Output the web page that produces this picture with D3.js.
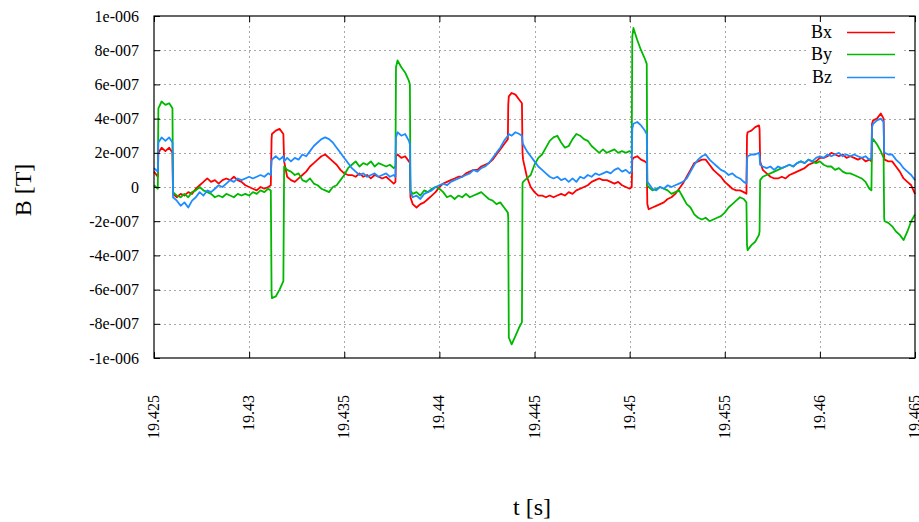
<!DOCTYPE html>
<html><head><meta charset="utf-8">
<script src="https://cdn.jsdelivr.net/npm/d3@7"></script>
<style>body{margin:0;background:#fff;} text{font-family:"Liberation Serif","DejaVu Serif",serif;fill:#000;}</style>
</head><body><svg id="c" width="919" height="522"></svg>
<script>
// time [s]
const time = [
19.42500,19.42520,19.42523,19.42540,19.42560,19.42580,19.42597,19.42600,19.42620,19.42640,
19.42660,19.42680,19.42700,19.42720,19.42740,19.42760,19.42780,19.42800,19.42820,19.42840,
19.42860,19.42880,19.42900,19.42920,19.42940,19.42960,19.42980,19.43000,19.43020,19.43040,
19.43060,19.43080,19.43100,19.43114,19.43118,19.43120,19.43140,19.43160,19.43180,19.43184,
19.43200,19.43220,19.43240,19.43260,19.43280,19.43300,19.43320,19.43340,19.43360,19.43380,
19.43400,19.43420,19.43440,19.43460,19.43480,19.43500,19.43520,19.43540,19.43560,19.43580,
19.43600,19.43620,19.43640,19.43660,19.43680,19.43700,19.43720,19.43740,19.43760,19.43769,
19.43772,19.43780,19.43800,19.43820,19.43840,19.43845,19.43848,19.43860,19.43880,19.43900,
19.43920,19.43940,19.43960,19.43980,19.44000,19.44020,19.44040,19.44060,19.44080,19.44100,
19.44120,19.44140,19.44160,19.44180,19.44200,19.44220,19.44240,19.44260,19.44280,19.44300,
19.44320,19.44340,19.44360,19.44362,19.44365,19.44380,19.44400,19.44420,19.44434,19.44437,
19.44440,19.44460,19.44480,19.44500,19.44520,19.44540,19.44560,19.44580,19.44600,19.44620,
19.44640,19.44660,19.44680,19.44700,19.44720,19.44740,19.44760,19.44780,19.44800,19.44820,
19.44840,19.44860,19.44880,19.44900,19.44920,19.44940,19.44960,19.44980,19.45000,19.45011,
19.45014,19.45020,19.45040,19.45060,19.45080,19.45090,19.45093,19.45100,19.45120,19.45140,
19.45160,19.45180,19.45200,19.45220,19.45240,19.45260,19.45280,19.45300,19.45320,19.45340,
19.45360,19.45380,19.45400,19.45420,19.45440,19.45460,19.45480,19.45500,19.45520,19.45540,
19.45560,19.45580,19.45600,19.45614,19.45617,19.45620,19.45640,19.45660,19.45680,19.45683,
19.45686,19.45700,19.45720,19.45740,19.45760,19.45780,19.45800,19.45820,19.45840,19.45860,
19.45880,19.45900,19.45920,19.45940,19.45960,19.45980,19.46000,19.46020,19.46040,19.46060,
19.46080,19.46100,19.46120,19.46140,19.46160,19.46180,19.46200,19.46220,19.46240,19.46260,
19.46271,19.46274,19.46280,19.46300,19.46320,19.46335,19.46338,19.46340,19.46360,19.46380,
19.46400,19.46420,19.46440,19.46460,19.46480,19.46500
];
// values in units of 1e-7 T
const bx = [
0.9,0.6,2.0,2.3,2.1,2.3,2.0,-0.4,-0.6,-0.4,
-0.5,-0.3,-0.4,-0.1,0.1,0.3,0.5,0.3,0.4,0.2,
0.4,0.5,0.4,0.6,0.4,0.3,0.1,0.0,-0.1,-0.2,
0.0,-0.1,0.0,0.1,2.8,3.1,3.3,3.4,3.1,1.5,
0.6,0.4,0.3,0.5,0.7,0.9,1.2,1.4,1.6,1.8,
1.9,1.7,1.5,1.3,1.0,0.8,0.7,0.7,0.6,0.8,
0.6,0.7,0.5,0.7,0.6,0.5,0.6,0.4,0.2,0.3,
1.8,1.9,1.7,1.8,1.5,1.4,-0.6,-1.0,-1.2,-1.0,
-0.9,-0.7,-0.5,-0.3,0.0,0.2,0.3,0.4,0.5,0.6,
0.6,0.8,0.9,1.0,1.0,1.2,1.3,1.4,1.6,1.9,
2.2,2.5,2.8,4.8,5.3,5.5,5.4,5.1,4.9,2.0,
1.6,0.6,0.0,-0.3,-0.5,-0.5,-0.6,-0.5,-0.6,-0.5,
-0.4,-0.5,-0.3,-0.4,-0.2,-0.1,0.0,0.1,0.3,0.4,
0.5,0.4,0.4,0.3,0.2,0.3,0.1,0.0,-0.1,0.0,
1.6,1.7,1.8,1.6,1.5,1.4,-1.0,-1.3,-1.2,-1.1,
-1.0,-0.9,-0.7,-0.6,-0.4,-0.1,0.2,0.6,1.0,1.4,
1.5,1.6,1.6,1.3,1.0,0.8,0.6,0.3,0.1,-0.1,
-0.2,-0.2,-0.3,-0.4,3.0,3.2,3.3,3.5,3.6,3.4,
1.5,1.0,0.8,0.6,0.5,0.5,0.6,0.5,0.7,0.8,
0.9,1.0,1.1,1.3,1.4,1.5,1.7,1.7,1.8,2.0,
1.9,1.8,1.9,1.7,1.8,1.7,1.6,1.7,1.5,1.6,
1.5,3.7,3.9,4.0,4.3,4.0,1.7,1.6,1.5,1.5,
1.2,0.9,0.5,0.3,0.1,-0.4
];
const by = [
0.1,-0.1,4.6,5.0,4.8,4.9,4.6,-0.3,-0.5,-0.6,
-0.4,-0.6,-0.3,-0.2,0.0,-0.2,-0.3,-0.4,-0.6,-0.5,
-0.6,-0.4,-0.5,-0.6,-0.4,-0.5,-0.4,-0.5,-0.3,-0.4,
-0.2,-0.3,-0.1,-0.2,-6.2,-6.5,-6.4,-6.0,-5.5,1.2,
1.0,0.9,0.7,0.8,0.4,0.3,0.5,0.2,0.1,-0.1,
-0.2,-0.3,0.0,0.1,0.4,0.7,1.1,1.3,1.5,1.2,
1.4,1.3,1.5,1.2,1.4,1.3,1.2,1.3,1.1,1.2,
7.0,7.4,7.0,6.7,6.2,6.0,-0.2,-0.4,-0.3,-0.5,
-0.2,-0.3,-0.1,0.0,-0.1,-0.3,-0.6,-0.5,-0.7,-0.5,
-0.6,-0.4,-0.6,-0.5,-0.4,-0.3,-0.5,-0.7,-0.8,-1.0,
-0.9,-1.2,-1.5,-1.8,-8.8,-9.2,-8.7,-8.2,-7.9,0.2,
0.3,0.5,0.7,1.3,1.7,1.9,2.3,2.7,2.9,3.0,
2.6,2.3,2.4,2.8,3.1,3.0,2.8,2.7,2.4,2.2,
2.0,2.2,2.0,2.1,2.2,2.0,2.1,2.0,2.1,2.0,
8.8,9.3,8.6,8.0,7.5,7.2,0.1,0.0,-0.2,-0.1,
0.0,-0.1,-0.2,-0.4,-0.3,-0.2,-0.6,-1.0,-1.2,-1.6,
-1.8,-1.9,-1.8,-2.0,-1.9,-1.8,-1.7,-1.5,-1.2,-1.0,
-0.8,-0.6,-0.7,-0.9,-3.4,-3.7,-3.4,-3.2,-2.8,-2.6,
0.4,0.6,0.7,0.8,0.9,1.0,1.1,1.2,1.3,1.2,
1.4,1.5,1.4,1.6,1.5,1.4,1.5,1.3,1.2,1.2,
1.0,1.1,0.9,0.8,0.8,0.7,0.6,0.5,0.3,-0.1,
-0.2,2.6,2.8,2.5,2.1,1.7,-1.8,-2.0,-2.1,-2.3,
-2.6,-2.8,-3.1,-2.6,-2.0,-1.6
];
const bz = [
1.1,0.9,2.6,2.9,2.7,2.9,2.6,-0.6,-0.8,-1.1,
-0.9,-1.2,-0.8,-0.6,-0.3,-0.5,-0.2,-0.3,-0.1,0.1,
0.0,0.2,0.4,0.3,0.5,0.4,0.5,0.6,0.5,0.6,
0.7,0.6,0.8,0.7,1.5,1.6,1.8,1.6,1.8,1.5,
1.7,1.5,1.7,1.6,1.9,1.8,2.1,2.4,2.6,2.8,
2.9,2.8,2.6,2.3,2.0,1.7,1.4,1.1,0.9,0.7,
0.8,0.6,0.7,0.8,0.6,0.7,0.8,0.6,0.7,0.6,
2.9,3.2,3.0,3.1,2.7,2.5,-0.3,-0.6,-0.5,-0.7,
-0.4,-0.3,-0.2,0.0,0.1,0.2,0.1,0.3,0.4,0.5,
0.6,0.7,0.8,1.0,0.9,1.1,1.2,1.4,1.7,2.0,
2.3,2.7,3.0,3.0,3.1,3.0,3.2,3.1,3.0,2.6,
2.5,2.1,1.8,1.5,1.2,1.0,0.8,0.6,0.5,0.6,
0.4,0.5,0.3,0.5,0.3,0.6,0.5,0.7,0.6,0.8,
0.7,0.8,0.9,0.8,1.0,1.1,0.9,1.0,0.8,0.9,
3.4,3.7,3.8,3.6,3.3,3.1,0.3,0.2,-0.1,-0.2,
0.0,-0.1,0.1,0.0,0.1,0.2,0.3,0.5,0.9,1.3,
1.6,1.8,1.9,1.6,1.4,1.2,1.0,0.9,0.7,0.8,
0.6,0.5,0.3,0.2,1.6,1.8,1.9,1.9,2.0,1.8,
1.3,1.2,1.1,1.2,1.0,1.2,1.1,1.2,1.3,1.2,
1.4,1.5,1.4,1.6,1.5,1.7,1.8,1.7,1.9,1.8,
1.9,2.0,1.8,1.9,1.8,1.9,1.8,1.7,1.8,1.6,
1.7,3.5,3.7,3.9,4.0,3.8,2.1,2.0,1.9,1.9,
1.6,1.4,1.1,0.9,0.7,0.4
];
const valueUnit = 1e-7;

const xTicks = [19.425,19.43,19.435,19.44,19.445,19.45,19.455,19.46,19.465];
const xTickLabels = ["19.425","19.43","19.435","19.44","19.445","19.45","19.455","19.46","19.465"];
const yTicks = [-1e-6,-8e-7,-6e-7,-4e-7,-2e-7,0,2e-7,4e-7,6e-7,8e-7,1e-6];
const yTickLabels = ["-1e-006","-8e-007","-6e-007","-4e-007","-2e-007","0","2e-007","4e-007","6e-007","8e-007","1e-006"];
const seriesNames = ["Bx","By","Bz"];
const seriesColors = ["#ff0000","#00b800","#1e8cff"];
const xLabel = "t [s]";
const yLabel = "B [T]";

const L = 154, R = 915, T = 16, B = 358;
const svg = d3.select("#c");
const x = d3.scaleLinear().domain([19.425, 19.465]).range([L, R]);
const y = d3.scaleLinear().domain([-1e-6, 1e-6]).range([B, T]);

// grid
const grid = svg.append("g").attr("stroke", "#a8a8a8").attr("stroke-dasharray", "2,3").attr("stroke-width", 1);
grid.selectAll("line.h").data(yTicks.slice(1, -1)).join("line")
  .attr("x1", L).attr("x2", R).attr("y1", d => Math.round(y(d)) + 0.5).attr("y2", d => Math.round(y(d)) + 0.5);
grid.selectAll("line.v").data(xTicks.slice(1, -1)).join("line")
  .attr("y1", T).attr("y2", B).attr("x1", d => Math.round(x(d)) + 0.5).attr("x2", d => Math.round(x(d)) + 0.5);

// legend background (opaque like gnuplot key)
svg.append("rect").attr("x", 806).attr("y", 18).attr("width", 97).attr("height", 70).attr("fill", "#fff");

// series
const series = [bx, by, bz];
series.forEach((vals, s) => {
  const gen = d3.line().x(i => x(time[i])).y(i => y(vals[i] * valueUnit));
  svg.append("path").attr("d", gen(d3.range(time.length)))
    .attr("fill", "none").attr("stroke", seriesColors[s]).attr("stroke-width", 1.8)
    .attr("stroke-linejoin", "round");
});

// axes (inward ticks, mirrored)
const ax = svg.append("g").attr("class", "axes");
const yl = d3.axisLeft(y).tickValues(yTicks).tickFormat((d, i) => yTickLabels[i]).tickSizeInner(-6).tickSizeOuter(0).tickPadding(15);
const ya = ax.append("g").attr("transform", `translate(${L},0)`).call(yl);
ya.selectAll("text").style("font-size", "16px").attr("font-family", '"Liberation Serif",serif');
const yr = d3.axisRight(y).tickValues(yTicks).tickFormat("").tickSizeInner(-6).tickSizeOuter(0);
ax.append("g").attr("transform", `translate(${R},0)`).call(yr);
const xb = d3.axisBottom(x).tickValues(xTicks).tickFormat("").tickSizeInner(-6).tickSizeOuter(0);
ax.append("g").attr("transform", `translate(0,${B})`).call(xb);
const xt = d3.axisTop(x).tickValues(xTicks).tickFormat("").tickSizeInner(-6).tickSizeOuter(0);
ax.append("g").attr("transform", `translate(0,${T})`).call(xt);
ax.selectAll(".domain").remove();
ax.selectAll(".tick line").attr("stroke", "#000");

// border
svg.append("rect").attr("x", L).attr("y", T).attr("width", R - L).attr("height", B - T)
  .attr("fill", "none").attr("stroke", "#000").attr("stroke-width", 1.2);

// rotated x tick labels
svg.append("g").selectAll("text").data(xTicks).join("text")
  .attr("transform", d => `translate(${x(d) + 5},395) rotate(-90)`)
  .attr("text-anchor", "end").style("font-size", "16px")
  .text((d, i) => xTickLabels[i]);

// axis titles
svg.append("text").attr("x", 532).attr("y", 515).attr("text-anchor", "middle").style("font-size", "24px").text(xLabel);
svg.append("text").attr("transform", "translate(31,190) rotate(-90)").attr("text-anchor", "middle").style("font-size", "24px").text(yLabel);

// legend
const leg = svg.append("g");
const rowsY = [32, 54, 77];
seriesNames.forEach((n, i) => {
  leg.append("text").attr("x", 832).attr("y", rowsY[i] + 6).attr("text-anchor", "end").style("font-size", "18px").text(n);
  leg.append("line").attr("x1", 847).attr("x2", 895).attr("y1", rowsY[i] + 0.5).attr("y2", rowsY[i] + 0.5)
    .attr("stroke", seriesColors[i]).attr("stroke-width", 1.3);
});
</script></body></html>
